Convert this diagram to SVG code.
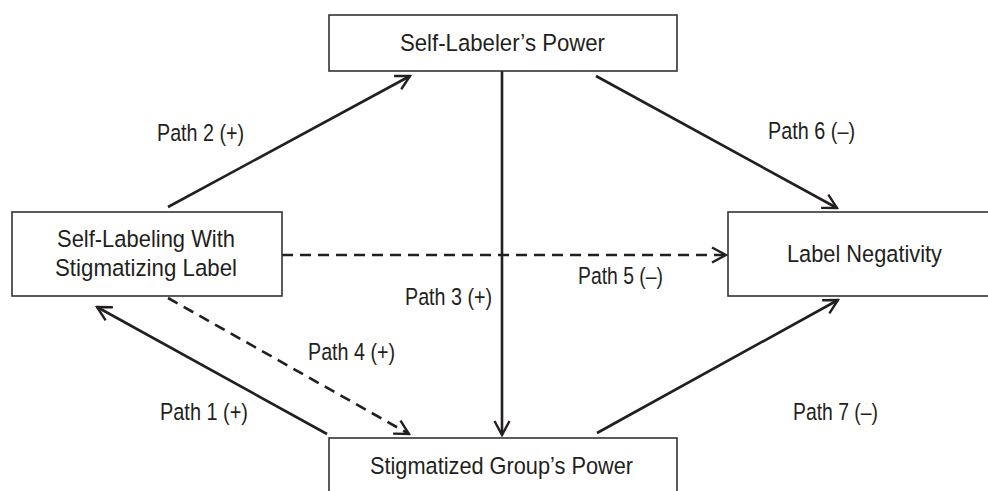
<svg xmlns="http://www.w3.org/2000/svg" width="988" height="491" viewBox="0 0 988 491">
<style>
.box{fill:#fff;stroke:#333;stroke-width:1.6}
.t{font-family:"Liberation Sans Narrow","Liberation Sans",Arial,sans-serif;font-size:24.5px;fill:#231f20}
.c{fill:none;stroke:#231f20;stroke-width:2.6}
.d{stroke-dasharray:11 7}
</style>
<defs>
<marker id="ah" markerUnits="userSpaceOnUse" viewBox="-16 -9 18 18" refX="0" refY="0" markerWidth="18" markerHeight="18" orient="auto">
<path d="M-14,-7.5 L0,0 L-14,7.5" fill="none" stroke="#231f20" stroke-width="2.4"/>
</marker>
</defs>
<rect width="988" height="491" fill="#fff"/>
<g id="connectors">
<line class="c" x1="168" y1="207" x2="410" y2="76" marker-end="url(#ah)"/>
<line class="c" x1="596" y1="76" x2="837" y2="208" marker-end="url(#ah)"/>
<line class="c" x1="502" y1="71" x2="502" y2="435" marker-end="url(#ah)"/>
<line class="c d" x1="282" y1="255" x2="726" y2="255" marker-end="url(#ah)"/>
<line class="c d" x1="168" y1="298" x2="409" y2="434" marker-end="url(#ah)"/>
<line class="c" x1="327" y1="434" x2="97" y2="307" marker-end="url(#ah)"/>
<line class="c" x1="597" y1="433" x2="838" y2="300" marker-end="url(#ah)"/>
<text class="t" x="157" y="141" textLength="87" lengthAdjust="spacingAndGlyphs">Path 2 (+)</text>
<text class="t" x="768" y="139" textLength="87" lengthAdjust="spacingAndGlyphs">Path 6 (–)</text>
<text class="t" x="578" y="284" textLength="85" lengthAdjust="spacingAndGlyphs">Path 5 (–)</text>
<text class="t" x="405" y="305" textLength="87" lengthAdjust="spacingAndGlyphs">Path 3 (+)</text>
<text class="t" x="308" y="360" textLength="87" lengthAdjust="spacingAndGlyphs">Path 4 (+)</text>
<text class="t" x="160" y="420" textLength="88" lengthAdjust="spacingAndGlyphs">Path 1 (+)</text>
<text class="t" x="793" y="420" textLength="85" lengthAdjust="spacingAndGlyphs">Path 7 (–)</text>
</g>
<g id="self-labeler-power">
<rect class="box" x="329" y="15" width="348" height="56"/>
<text class="t" x="400" y="51" textLength="205" lengthAdjust="spacingAndGlyphs">Self-Labeler’s Power</text>
</g>
<g id="self-labeling">
<rect class="box" x="12" y="212" width="270" height="84"/>
<text class="t" x="57" y="247" textLength="178" lengthAdjust="spacingAndGlyphs">Self-Labeling With</text>
<text class="t" x="55" y="276" textLength="182" lengthAdjust="spacingAndGlyphs">Stigmatizing Label</text>
</g>
<g id="label-negativity">
<rect class="box" x="728" y="212" width="270" height="84"/>
<text class="t" x="787" y="262" textLength="155" lengthAdjust="spacingAndGlyphs">Label Negativity</text>
</g>
<g id="stigmatized-group-power">
<rect class="box" x="329" y="438" width="348" height="70"/>
<text class="t" x="370" y="474" textLength="263" lengthAdjust="spacingAndGlyphs">Stigmatized Group’s Power</text>
</g>
</svg>
